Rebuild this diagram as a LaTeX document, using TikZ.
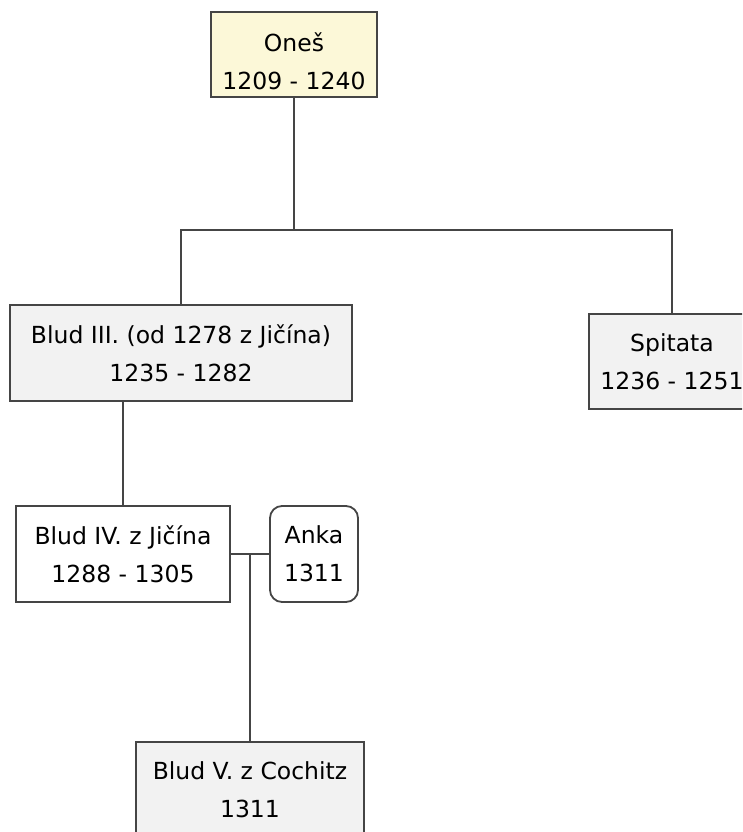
\documentclass[tikz,border=0pt]{standalone}
\usepackage{fontspec}
\setmainfont{DejaVu Sans}
\definecolor{lineclr}{HTML}{454545}
\definecolor{topfill}{HTML}{FCF8D8}
\definecolor{grayfill}{HTML}{F2F2F2}
\tikzset{
    person/.style={draw=lineclr, line width=1.8pt, align=center, inner sep=0pt,
        font=\fontsize{23.5}{38}\selectfont},
    link/.style={draw=lineclr, line width=1.8pt}
}
\begin{document}
\begin{tikzpicture}[x=1pt, y=-1pt]
        \useasboundingbox (0,0) rectangle (742,832);
        \begin{scope}
        \clip (0,0) rectangle (742,832);
        \node[person, fill=topfill, minimum width=166pt, minimum height=85pt] (ones) at (294,54.5) {\raisebox{0pt}[32pt]{Oneš}\\1209 - 1240};
        \node[person, fill=grayfill, minimum width=342pt, minimum height=96pt] (blud3) at (181,353) {Blud III. (od 1278 z Jičína)\\1235 - 1282};
        \node[person, fill=grayfill, minimum width=166pt, minimum height=95pt] (spitata) at (672,361.5) {Spitata\\1236 - 1251};
        \node[person, fill=white, minimum width=214pt, minimum height=96pt] (blud4) at (123,554) {Blud IV. z Jičína\\1288 - 1305};
        \node[person, fill=white, rounded corners=12pt, minimum width=88pt, minimum height=96pt] (anka) at (314,554) {Anka\\1311};
        \node[person, fill=grayfill, minimum width=228pt, minimum height=96pt] (blud5) at (250,790) {Blud V. z Cochitz\\1311};
        
        \coordinate (fork) at (294,230);
        \draw[link] (ones.south) -- (fork);
        \draw[link] (blud3.north) |- (fork) -| (spitata.north);
        \draw[link] (blud4.north) -- (blud4.north |- blud3.south);
        \draw[link] (blud4.east) -- (anka.west) coordinate[pos=0.5] (couple);
        \draw[link] (couple) -- (couple |- blud5.north);
        \end{scope}
    
    \end{tikzpicture}
\end{document}
